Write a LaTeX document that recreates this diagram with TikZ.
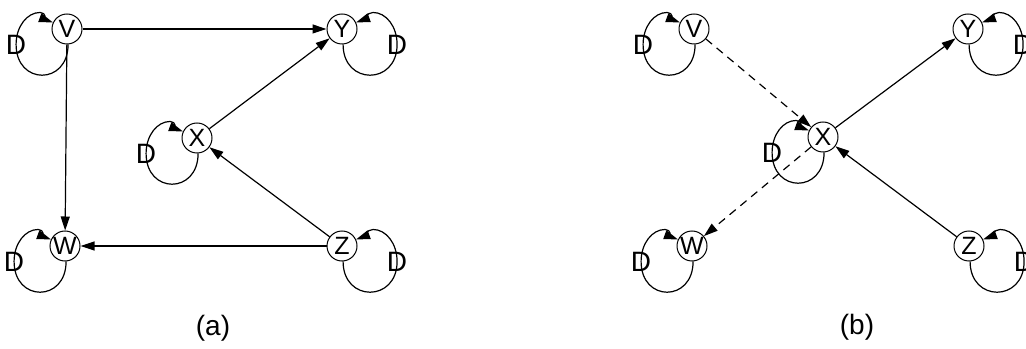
\documentclass[tikz,border=0pt]{standalone}
\usepackage{fontspec}
\setmainfont{Liberation Sans}
\usetikzlibrary{arrows.meta}
\begin{document}
\begin{tikzpicture}[x=0.5pt, y=0.5pt, line width=0.6pt,
  >={Triangle[length=7pt, width=4.5pt]},
  vertex/.style={circle, draw, line width=0.5pt, minimum size=15pt, inner sep=0pt,
    font=\fontsize{12.5}{13}\selectfont},
  dlabel/.style={inner sep=0pt, font=\fontsize{14}{14}\selectfont},
  caption/.style={font=\fontsize{14}{14}\selectfont},
  dashedge/.style={->, dash pattern=on 4pt off 3pt}]
  \useasboundingbox (0,0) rectangle (1026,348);
  % (a)
  \node[vertex] (Va) at (67,319) {V};
  \node[vertex] (Ya) at (342,319) {Y};
  \node[vertex] (Xa) at (197,210) {X};
  \node[vertex] (Wa) at (65,102) {W};
  \node[vertex] (Za) at (342,102) {Z};
  \node[caption] (capa) at (213,20) {(a)};
  \draw[->] (Va) -- (Ya);
  \draw[->] (Va) -- (Wa);
  \draw[->] (Xa) -- (Ya);
  \draw[->] (Za) -- (Xa);
  \draw[->] (Za) -- (Wa);
  \draw[->] (Va.-86) .. controls +(-90:41) and +(-90:41) .. ++(-52,0) node[dlabel] {D}
    .. controls +(90:18) and +(180:13) .. ++(24,32) .. controls +(0:6) and +(160:6) .. (Va.155);
  \draw[->] (Xa.-86) .. controls +(-90:41) and +(-90:41) .. ++(-52,0) node[dlabel] {D}
    .. controls +(90:18) and +(180:13) .. ++(24,32) .. controls +(0:6) and +(160:6) .. (Xa.155);
  \draw[->] (Wa.-86) .. controls +(-90:41) and +(-90:41) .. ++(-52,0) node[dlabel] {D}
    .. controls +(90:18) and +(180:13) .. ++(24,32) .. controls +(0:6) and +(160:6) .. (Wa.155);
  \draw[->] (Ya.-86) .. controls +(-90:41) and +(-90:41) .. ++(54,0) node[dlabel] {D}
    .. controls +(90:18) and +(0:13) .. ++(-24,32) .. controls +(180:6) and +(20:6) .. (Ya.25);
  \draw[->] (Za.-86) .. controls +(-90:41) and +(-90:41) .. ++(54,0) node[dlabel] {D}
    .. controls +(90:18) and +(0:13) .. ++(-24,32) .. controls +(180:6) and +(20:6) .. (Za.25);
  % (b)
  \node[vertex] (Vb) at (694,319) {V};
  \node[vertex] (Yb) at (968,319) {Y};
  \node[vertex] (Xb) at (823,211) {X};
  \node[vertex] (Wb) at (692,102) {W};
  \node[vertex] (Zb) at (969,102) {Z};
  \node[caption] (capb) at (857,21) {(b)};
  \draw[dashedge] (Vb) -- (Xb);
  \draw[dashedge] (Xb) -- (Wb);
  \draw[->] (Xb) -- (Yb);
  \draw[->] (Zb) -- (Xb);
  \draw[->] (Vb.-86) .. controls +(-90:41) and +(-90:41) .. ++(-52,0) node[dlabel] {D}
    .. controls +(90:18) and +(180:13) .. ++(24,32) .. controls +(0:6) and +(160:6) .. (Vb.155);
  \draw[->] (Xb.-86) .. controls +(-90:41) and +(-90:41) .. ++(-52,0) node[dlabel] {D}
    .. controls +(90:18) and +(180:13) .. ++(24,32) .. controls +(0:6) and +(160:6) .. (Xb.155);
  \draw[->] (Wb.-86) .. controls +(-90:41) and +(-90:41) .. ++(-52,0) node[dlabel] {D}
    .. controls +(90:18) and +(180:13) .. ++(24,32) .. controls +(0:6) and +(160:6) .. (Wb.155);
  \draw[->] (Yb.-86) .. controls +(-90:41) and +(-90:41) .. ++(54,0) node[dlabel] {D}
    .. controls +(90:18) and +(0:13) .. ++(-24,32) .. controls +(180:6) and +(20:6) .. (Yb.25);
  \draw[->] (Zb.-86) .. controls +(-90:41) and +(-90:41) .. ++(54,0) node[dlabel] {D}
    .. controls +(90:18) and +(0:13) .. ++(-24,32) .. controls +(180:6) and +(20:6) .. (Zb.25);
\end{tikzpicture}
\end{document}
